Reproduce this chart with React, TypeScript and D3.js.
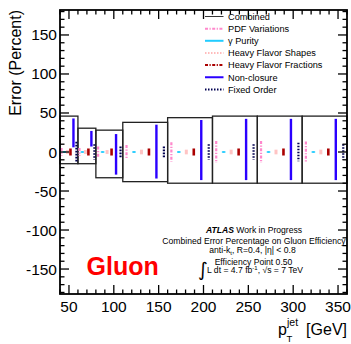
import React from "react";
import * as d3 from "d3";

// ---- data ----
const binEdges = [40, 60, 80, 110, 160, 210, 260, 310, 360];
const combinedUp = [46, 30.5, 28, 38, 44, 46, 46, 46];
const combinedDown = [15, 15, 33, 38, 40, 40, 40, 40];
const pdfVariations = [5, 5, 7, 9, 12.5, 14, 14, 13.5];
const gammaPurity = [1, 1, 1, 1, 1, 1, 1, 1];
const hfShapes = [2.5, 2.5, 2.5, 3, 3, 3, 3, 3];
const hfFractions = [4.5, 4.5, 4.5, 4.5, 4.5, 4.5, 4.5, 4.5];
const nonClosureLow = [6, 7, -29, -34, -36, -36, -36, -36];
const nonClosureHigh = [43, 27, 23, 35, 41, 42.5, 42.5, 42.5];
const fixedOrder = [13, 10, 7, 7, 10, 10, 12, 10];
const xTickValues = [50, 100, 150, 200, 250, 300, 350];
const yTickValues = [-150, -100, -50, 0, 50, 100, 150];
const legendLabels = [
  "Combined",
  "PDF Variations",
  "\u03b3 Purity",
  "Heavy Flavor Shapes",
  "Heavy Flavor Fractions",
  "Non-closure",
  "Fixed Order",
];

const W = 351;
const H = 344;
const L = 60, R = 347, T = 10, B = 294;
const FONT = "'Liberation Sans', Arial, Helvetica, sans-serif";

const x = d3.scaleLinear().domain([40, 360]).range([L, R]);
const y = d3.scaleLinear().domain([-182, 182]).range([B, T]);

type Series = {
  low: number[];
  high: number[];
  color: string;
  width: number;
  dash?: string;
};

const series: Series[] = [
  { low: pdfVariations.map((v) => -v), high: pdfVariations, color: "#ff88cc", width: 2.2, dash: "3 1.5 1.2 1.5" },
  { low: gammaPurity.map((v) => -v), high: gammaPurity, color: "#22ccff", width: 2 },
  { low: hfShapes.map((v) => -v), high: hfShapes, color: "#ffc4c4", width: 3 },
  { low: hfFractions.map((v) => -v), high: hfFractions, color: "#aa0000", width: 2.6 },
  { low: nonClosureLow, high: nonClosureHigh, color: "#2a00ff", width: 2.4 },
  { low: fixedOrder.map((v) => -v), high: fixedOrder, color: "#000050", width: 2.2, dash: "1.6 1.4" },
];

const legendStyles = [
  { color: "#333", width: 1, dash: undefined as string | undefined },
  { color: "#ff88cc", width: 2, dash: "3 1.5 1.2 1.5" },
  { color: "#22ccff", width: 2, dash: undefined },
  { color: "#ffbbbb", width: 2, dash: "1.5 1.5" },
  { color: "#aa0000", width: 2, dash: "3 1.5 1.2 1.5" },
  { color: "#2a00ff", width: 2, dash: undefined },
  { color: "#000050", width: 2, dash: "1.5 1.5" },
];

export default function App() {
  const nBins = binEdges.length - 1;
  const bins = d3.range(nBins);
  const xMinor = d3.range(40, 361, 10);
  const yMinor = d3.range(-180, 181, 10);

  return (
    <svg
      width={W}
      height={H}
      style={{ position: "absolute", left: 0, top: 0, background: "#fff" }}
      fontFamily={FONT}
    >
      <rect x={0} y={0} width={W} height={H} fill="#fff" />

      {/* combined boxes */}
      {bins.map((i) => (
        <rect
          key={"box" + i}
          x={x(binEdges[i])}
          y={y(combinedUp[i])}
          width={x(binEdges[i + 1]) - x(binEdges[i])}
          height={y(-combinedDown[i]) - y(combinedUp[i])}
          fill="none"
          stroke="#222"
          strokeWidth={1.3}
        />
      ))}

      {/* component error bars */}
      {series.map((s, si) =>
        bins.map((i) => {
          const x0 = binEdges[i];
          const x1 = binEdges[i + 1];
          const xc = x(x0 + ((si + 0.5) / 6) * (x1 - x0));
          return (
            <g key={"s" + si + "-" + i}>
              <line
                x1={xc}
                x2={xc}
                y1={y(s.high[i])}
                y2={y(s.low[i])}
                stroke={s.color}
                strokeWidth={s.width}
                strokeDasharray={s.dash}
              />
              {si === 1 && (
                <line x1={xc - 1.8} x2={xc + 1.8} y1={y(0)} y2={y(0)} stroke={s.color} strokeWidth={1.4} />
              )}
            </g>
          );
        })
      )}

      {/* frame */}
      <rect x={L} y={T} width={R - L} height={B - T} fill="none" stroke="#000" strokeWidth={1.8} />

      {/* x ticks */}
      {xMinor.map((v) => {
        const major = v % 50 === 0;
        const len = major ? 9 : 4.5;
        return (
          <g key={"xt" + v}>
            <line x1={x(v)} x2={x(v)} y1={B} y2={B - len} stroke="#000" strokeWidth={1.3} />
            <line x1={x(v)} x2={x(v)} y1={T} y2={T + len} stroke="#000" strokeWidth={1.3} />
          </g>
        );
      })}
      {/* y ticks */}
      {yMinor.map((v) => {
        const major = v % 50 === 0;
        const len = major ? 9 : 4.5;
        return (
          <g key={"yt" + v}>
            <line x1={L} x2={L + len} y1={y(v)} y2={y(v)} stroke="#000" strokeWidth={1.3} />
            <line x1={R} x2={R - len} y1={y(v)} y2={y(v)} stroke="#000" strokeWidth={1.3} />
          </g>
        );
      })}

      {/* tick labels */}
      {xTickValues.map((v) => (
        <text key={"xl" + v} x={x(v)} y={311.5} textAnchor="middle" fontSize={15.5} fill="#000">
          {v}
        </text>
      ))}
      {yTickValues.map((v) => (
        <text key={"yl" + v} x={57} y={y(v) + 5.5} textAnchor="end" fontSize={15.5} fill="#000">
          {v}
        </text>
      ))}

      {/* axis titles */}
      <text transform="translate(21,10) rotate(-90)" textAnchor="end" fontSize={16} fill="#000">
        Error (Percent)
      </text>
      <text x={278} y={335} fontSize={16} fill="#000">p</text>
      <text x={287} y={326} fontSize={10.5} fill="#000">jet</text>
      <text x={286.5} y={341.5} fontSize={9.5} fill="#000">T</text>
      <text x={347} y={335} textAnchor="end" fontSize={16} fill="#000">[GeV]</text>

      {/* legend */}
      {legendLabels.map((lab, i) => {
        const ly = 16.5 + i * 12.15;
        const st = legendStyles[i];
        return (
          <g key={"lg" + i}>
            <line x1={205} x2={223.5} y1={ly} y2={ly} stroke={st.color} strokeWidth={st.width} strokeDasharray={st.dash} />
            <text x={228} y={ly + 3.3} fontSize={9.2} fill="#000">
              {lab}
            </text>
          </g>
        );
      })}

      {/* annotation block */}
      <text x={254} y={232.6} textAnchor="middle" fontSize={8.6} fill="#000">
        <tspan fontWeight="bold" fontStyle="italic">ATLAS</tspan> Work in Progress
      </text>
      <text x={254} y={244} textAnchor="middle" fontSize={8.6} fill="#000">
        Combined Error Percentage on Gluon Efficiency
      </text>
      <text x={252.5} y={253.3} textAnchor="middle" fontSize={8.6} fill="#000">
        anti-k<tspan fontSize={6} dy={2}>t</tspan><tspan dy={-2}>, R=0.4, |</tspan>
        <tspan>{"\u03b7"}</tspan>
        <tspan>| &lt; 0.8</tspan>
      </text>
      <text x={253.5} y={264.8} textAnchor="middle" fontSize={8.6} fill="#000">
        Efficiency Point 0.50
      </text>
      <text x={198} y={276} fontSize={19} fill="#000" fontFamily="'DejaVu Sans', sans-serif">
        {"\u222b"}
      </text>
      <text x={207} y={273.3} fontSize={8.6} fill="#000">
        L dt = 4.7 fb<tspan fontSize={6} dy={-3}>-1</tspan>
        <tspan dy={3}>, </tspan>
        <tspan>{"\u221a"}s = 7 TeV</tspan>
      </text>

      {/* Gluon label */}
      <text x={86.5} y={275} fontSize={25} fontWeight="bold" fill="#ff0000">
        Gluon
      </text>
    </svg>
  );
}
